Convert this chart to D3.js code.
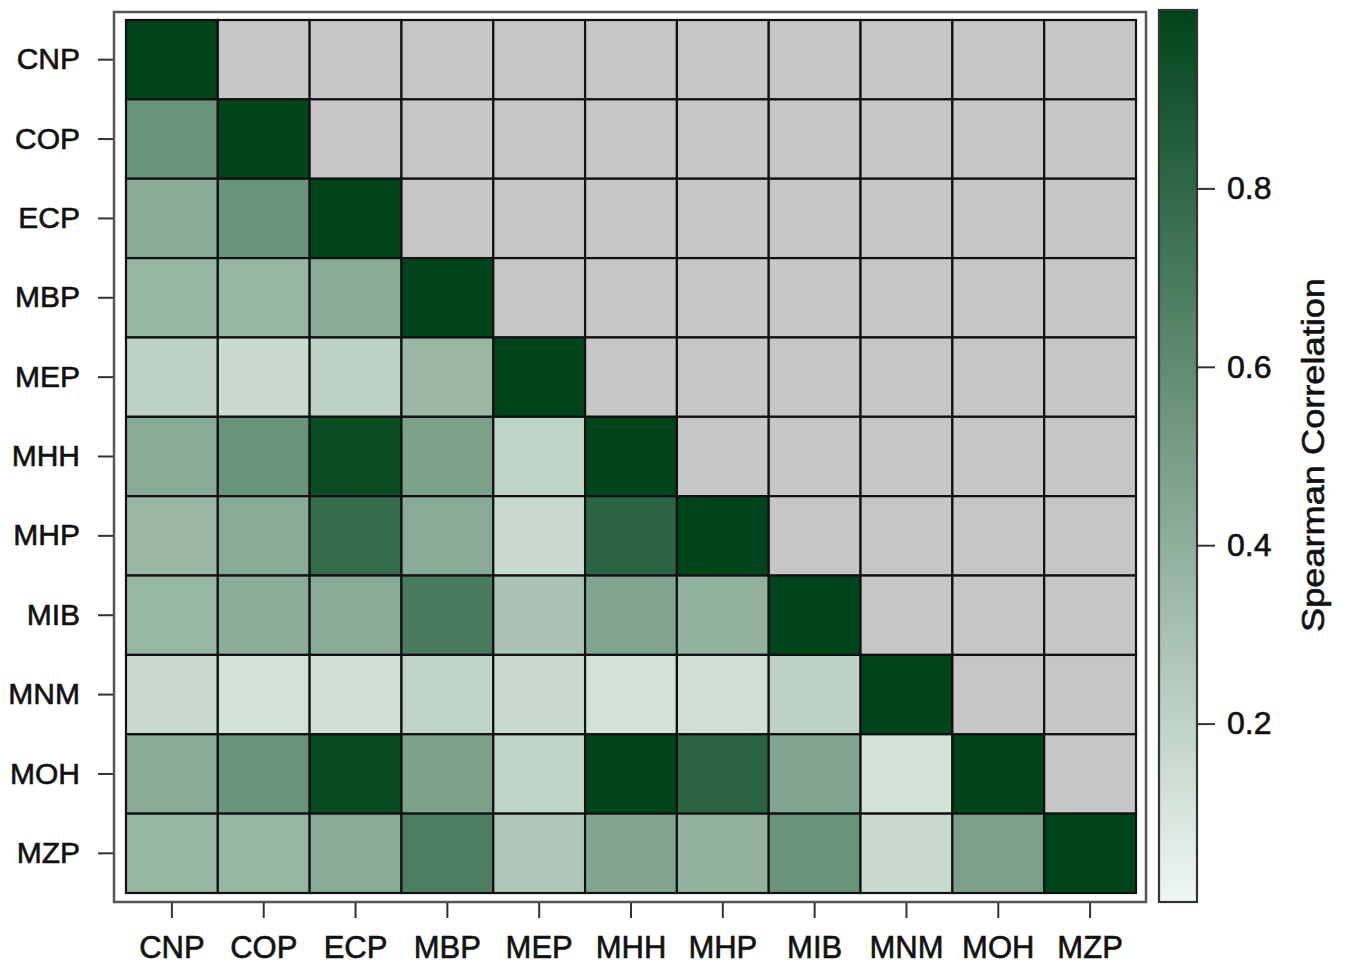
<!DOCTYPE html>
<html>
<head>
<meta charset="utf-8">
<script src="https://cdn.jsdelivr.net/npm/d3@7"></script>
<style>
  body { margin: 0; background: #fff; }
  text { font-family: "Liberation Sans", Arial, sans-serif; fill: #111; stroke: #111; stroke-width: 0.6px; }
</style>
</head>
<body>
<div id="chart-area"></div>
<script>
    // variables (rows and columns share the same order)
    var vars = ['CNP', 'COP', 'ECP', 'MBP', 'MEP', 'MHH', 'MHP', 'MIB', 'MNM', 'MOH', 'MZP'];

    // lower triangle of the Spearman matrix, one list per row (diagonal included)
    var rowCNP = [1.0];
    var rowCOP = [0.56, 1.0];
    var rowECP = [0.43, 0.56, 1.0];
    var rowMBP = [0.37, 0.37, 0.43, 1.0];
    var rowMEP = [0.21, 0.16, 0.21, 0.35, 1.0];
    var rowMHH = [0.43, 0.56, 0.96, 0.48, 0.20, 1.0];
    var rowMHP = [0.35, 0.43, 0.78, 0.43, 0.16, 0.82, 1.0];
    var rowMIB = [0.36, 0.42, 0.43, 0.69, 0.29, 0.46, 0.39, 1.0];
    var rowMNM = [0.16, 0.12, 0.13, 0.20, 0.16, 0.12, 0.13, 0.21, 1.0];
    var rowMOH = [0.43, 0.56, 0.97, 0.48, 0.20, 1.0, 0.82, 0.46, 0.12, 1.0];
    var rowMZP = [0.37, 0.37, 0.43, 0.67, 0.27, 0.46, 0.39, 0.56, 0.16, 0.48, 1.0];

    var rows = [rowCNP, rowCOP, rowECP, rowMBP, rowMEP, rowMHH, rowMHP, rowMIB, rowMNM, rowMOH, rowMZP];

    var legendTicks = [0.2, 0.4, 0.6, 0.8];
    var legendTitle = 'Spearman Correlation';

    var width = 1346;
    var height = 967;
    var naColor = '#c6c6c6';

    var svg = d3.select('#chart-area')
      .append('svg')
      .attr('width', width)
      .attr('height', height);

    var xScale = d3.scaleBand().domain(vars).range([126, 1136]);
    var yScale = d3.scaleBand().domain(vars).range([20, 893]);

    var color = d3.scaleLinear()
      .domain([0, 1])
      .range(['#eff7f3', '#00441b']);

    // flatten into cells, upper triangle is NA
    var cells = [];
    vars.forEach((r, i) => {
      vars.forEach((c, j) => {
        cells.push({ row: r, col: c, value: j <= i ? rows[i][j] : null });
      });
    });

    // outer frame
    svg.append('rect')
      .attr('x', 114).attr('y', 12)
      .attr('width', 1146 - 114).attr('height', 902 - 12)
      .attr('fill', 'none')
      .attr('stroke', '#555')
      .attr('stroke-width', 2.5);

    svg.append('g').selectAll('rect')
      .data(cells)
      .enter()
      .append('rect')
      .attr('x', (d) => xScale(d.col))
      .attr('y', (d) => yScale(d.row))
      .attr('width', xScale.bandwidth())
      .attr('height', yScale.bandwidth())
      .attr('fill', (d) => d.value === null ? naColor : color(d.value))
      .attr('stroke', '#111')
      .attr('stroke-width', 2.2);

    // axes
    var yAxis = svg.append('g')
      .attr('transform', 'translate(113,0)')
      .call(d3.axisLeft(yScale).tickSize(15).tickPadding(18));
    yAxis.select('.domain').remove();
    yAxis.selectAll('line').attr('stroke', '#333').attr('stroke-width', 2);
    yAxis.selectAll('text').attr('font-size', '30px').attr('fill', '#111');

    var xAxis = svg.append('g')
      .attr('transform', 'translate(0,903)')
      .call(d3.axisBottom(xScale).tickSize(15).tickPadding(18));
    xAxis.select('.domain').remove();
    xAxis.selectAll('line').attr('stroke', '#333').attr('stroke-width', 2);
    xAxis.selectAll('text').attr('font-size', '31px').attr('fill', '#111');

    // colour bar
    var barX = 1159, barW = 38;
    var legendScale = d3.scaleLinear().domain([0, 1]).range([902, 10]);

    var grad = svg.append('defs').append('linearGradient')
      .attr('id', 'grad')
      .attr('x1', '0').attr('y1', '1')
      .attr('x2', '0').attr('y2', '0');
    d3.range(0, 1.01, 0.1).forEach((v) => {
      grad.append('stop')
        .attr('offset', v)
        .attr('stop-color', color(v));
    });

    svg.append('rect')
      .attr('x', barX).attr('y', legendScale(1))
      .attr('width', barW).attr('height', legendScale(0) - legendScale(1))
      .attr('fill', 'url(#grad)')
      .attr('stroke', '#333')
      .attr('stroke-width', 2.2);

    var lAxis = svg.append('g')
      .attr('transform', `translate(${barX + barW},0)`)
      .call(d3.axisRight(legendScale)
        .tickValues(legendTicks)
        .tickSize(18)
        .tickPadding(12)
        .tickFormat(d3.format('.1f')));
    lAxis.select('.domain').remove();
    lAxis.selectAll('line').attr('stroke', '#333').attr('stroke-width', 2);
    lAxis.selectAll('text').attr('font-size', '32px').attr('fill', '#111');

    svg.append('text')
      .attr('transform', 'translate(1324,455) rotate(-90)')
      .attr('text-anchor', 'middle')
      .attr('font-size', '32px')
      .attr('textLength', 354)
      .attr('lengthAdjust', 'spacingAndGlyphs')
      .text(legendTitle);
</script>
</body>
</html>
